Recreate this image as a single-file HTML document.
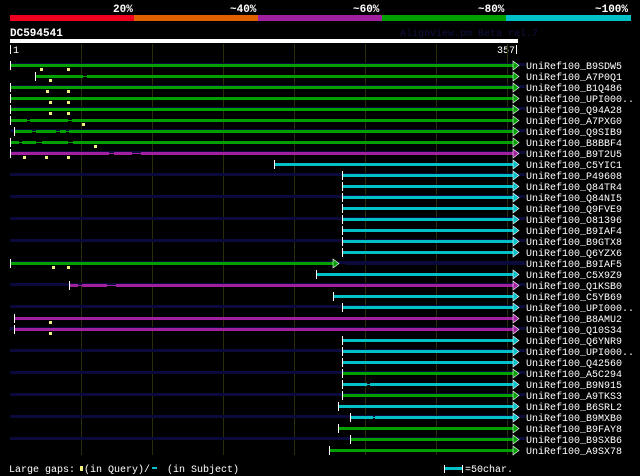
<!DOCTYPE html>
<html><head><meta charset="utf-8"><style>
html,body{margin:0;padding:0;background:#000;width:640px;height:476px;overflow:hidden}
svg{display:block}
text{font-family:"Liberation Mono",monospace;fill:#fff}
</style></head><body>
<svg width="640" height="476" viewBox="0 0 640 476" xmlns="http://www.w3.org/2000/svg">
<rect width="640" height="476" fill="#000"/>
<g font-size="11" font-weight="bold">
<text x="113" y="12">20%</text><text x="230" y="12">~40%</text><text x="353" y="12">~60%</text><text x="478" y="12">~80%</text><text x="595" y="12">~100%</text>
</g>
<rect x="10" y="15" width="124" height="6" fill="#f0001e"/>
<rect x="134" y="15" width="124" height="6" fill="#e06000"/>
<rect x="258" y="15" width="124" height="6" fill="#a020a0"/>
<rect x="382" y="15" width="124" height="6" fill="#00a000"/>
<rect x="506" y="15" width="125" height="6" fill="#00c0c8"/>
<text x="10" y="36" font-size="11" font-weight="bold">DC594541</text>
<text x="400" y="36" font-size="10" style="fill:#101040">AlignView.pm Beta rel.7</text>
<rect x="10" y="39" width="508" height="4" fill="#fff"/>
<rect x="10" y="45" width="1" height="9" fill="#fff"/>
<text x="13" y="53" font-size="10">1</text>
<text x="497" y="53" font-size="10">357</text>
<rect x="516" y="45" width="1" height="9" fill="#fff"/>
<g stroke="#2c2c08" stroke-width="1">
<line x1="81.5" y1="44" x2="81.5" y2="455"/><line x1="152.5" y1="44" x2="152.5" y2="455"/><line x1="223.5" y1="44" x2="223.5" y2="455"/><line x1="294.5" y1="44" x2="294.5" y2="455"/><line x1="365.5" y1="44" x2="365.5" y2="455"/><line x1="436.5" y1="44" x2="436.5" y2="455"/><line x1="507.5" y1="44" x2="507.5" y2="455"/>
</g>
<g fill="#0a0a3c">
<rect x="10" y="63" width="515" height="3"/><rect x="10" y="85" width="515" height="3"/><rect x="10" y="107" width="515" height="3"/><rect x="10" y="129" width="515" height="3"/><rect x="10" y="151" width="515" height="3"/><rect x="10" y="173" width="515" height="3"/><rect x="10" y="195" width="515" height="3"/><rect x="10" y="217" width="515" height="3"/><rect x="10" y="239" width="515" height="3"/><rect x="10" y="261" width="515" height="3"/><rect x="10" y="283" width="515" height="3"/><rect x="10" y="305" width="515" height="3"/><rect x="10" y="327" width="515" height="3"/><rect x="10" y="349" width="515" height="3"/><rect x="10" y="371" width="515" height="3"/><rect x="10" y="393" width="515" height="3"/><rect x="10" y="415" width="515" height="3"/><rect x="10" y="437" width="515" height="3"/>
<rect x="345" y="262" width="180" height="3"/>
</g>
<g>
<rect x="10" y="64" width="504" height="3" fill="#00a000"/>
<rect x="36" y="75" width="47" height="3" fill="#00a000"/><rect x="87" y="75" width="427" height="3" fill="#00a000"/><rect x="83" y="76" width="4" height="1" fill="#00a000"/>
<rect x="10" y="86" width="504" height="3" fill="#00a000"/>
<rect x="10" y="97" width="504" height="3" fill="#00a000"/>
<rect x="10" y="108" width="504" height="3" fill="#00a000"/>
<rect x="10" y="119" width="17" height="3" fill="#00a000"/><rect x="30" y="119" width="38" height="3" fill="#00a000"/><rect x="72" y="119" width="442" height="3" fill="#00a000"/><rect x="10" y="120" width="504" height="1" fill="#00a000"/>
<rect x="14" y="130" width="18" height="3" fill="#00a000"/><rect x="36" y="130" width="20" height="3" fill="#00a000"/><rect x="60" y="130" width="6" height="3" fill="#00a000"/><rect x="69" y="130" width="445" height="3" fill="#00a000"/><rect x="14" y="131" width="500" height="1" fill="#00a000"/>
<rect x="10" y="141" width="9" height="3" fill="#00a000"/><rect x="22" y="141" width="14" height="3" fill="#00a000"/><rect x="42" y="141" width="26" height="3" fill="#00a000"/><rect x="73" y="141" width="441" height="3" fill="#00a000"/><rect x="10" y="142" width="504" height="1" fill="#00a000"/>
<rect x="10" y="152" width="99" height="3" fill="#a020a0"/><rect x="114" y="152" width="18" height="3" fill="#a020a0"/><rect x="141" y="152" width="373" height="3" fill="#a020a0"/><rect x="10" y="153" width="504" height="1" fill="#a020a0"/>
<rect x="275" y="163" width="239" height="3" fill="#00c0c8"/>
<rect x="343" y="174" width="171" height="3" fill="#00c0c8"/>
<rect x="343" y="185" width="171" height="3" fill="#00c0c8"/>
<rect x="343" y="196" width="171" height="3" fill="#00c0c8"/>
<rect x="343" y="207" width="171" height="3" fill="#00c0c8"/>
<rect x="343" y="218" width="171" height="3" fill="#00c0c8"/>
<rect x="343" y="229" width="171" height="3" fill="#00c0c8"/>
<rect x="343" y="240" width="171" height="3" fill="#00c0c8"/>
<rect x="343" y="251" width="171" height="3" fill="#00c0c8"/>
<rect x="10" y="262" width="324" height="3" fill="#00a000"/>
<rect x="317" y="273" width="197" height="3" fill="#00c0c8"/>
<rect x="70" y="284" width="8" height="3" fill="#a020a0"/><rect x="82" y="284" width="25" height="3" fill="#a020a0"/><rect x="116" y="284" width="398" height="3" fill="#a020a0"/><rect x="70" y="285" width="444" height="1" fill="#a020a0"/>
<rect x="334" y="295" width="180" height="3" fill="#00c0c8"/>
<rect x="343" y="306" width="171" height="3" fill="#00c0c8"/>
<rect x="14" y="317" width="500" height="3" fill="#a020a0"/>
<rect x="14" y="328" width="500" height="3" fill="#a020a0"/>
<rect x="343" y="339" width="171" height="3" fill="#00c0c8"/>
<rect x="343" y="350" width="171" height="3" fill="#00c0c8"/>
<rect x="343" y="361" width="171" height="3" fill="#00c0c8"/>
<rect x="343" y="372" width="171" height="3" fill="#00a000"/>
<rect x="343" y="383" width="24" height="3" fill="#00c0c8"/><rect x="370" y="383" width="144" height="3" fill="#00c0c8"/><rect x="343" y="384" width="171" height="1" fill="#00c0c8"/>
<rect x="343" y="394" width="171" height="3" fill="#00a000"/>
<rect x="339" y="405" width="175" height="3" fill="#00c0c8"/>
<rect x="351" y="416" width="22" height="3" fill="#00c0c8"/><rect x="375" y="416" width="139" height="3" fill="#00c0c8"/><rect x="351" y="417" width="163" height="1" fill="#00c0c8"/>
<rect x="339" y="427" width="175" height="3" fill="#00a000"/>
<rect x="351" y="438" width="163" height="3" fill="#00a000"/>
<rect x="330" y="449" width="184" height="3" fill="#00a000"/>
</g>
<g fill="#fff">
<rect x="10" y="61" width="1" height="9"/><rect x="35" y="72" width="1" height="9"/><rect x="10" y="83" width="1" height="9"/><rect x="10" y="94" width="1" height="9"/><rect x="10" y="105" width="1" height="9"/><rect x="10" y="116" width="1" height="9"/><rect x="14" y="127" width="1" height="9"/><rect x="10" y="138" width="1" height="9"/><rect x="10" y="149" width="1" height="9"/><rect x="274" y="160" width="1" height="9"/>
<rect x="342" y="171" width="1" height="9"/><rect x="342" y="182" width="1" height="9"/><rect x="342" y="193" width="1" height="9"/><rect x="342" y="204" width="1" height="9"/><rect x="342" y="215" width="1" height="9"/><rect x="342" y="226" width="1" height="9"/><rect x="342" y="237" width="1" height="9"/><rect x="342" y="248" width="1" height="9"/>
<rect x="10" y="259" width="1" height="9"/><rect x="316" y="270" width="1" height="9"/><rect x="69" y="281" width="1" height="9"/><rect x="333" y="292" width="1" height="9"/><rect x="342" y="303" width="1" height="9"/><rect x="14" y="314" width="1" height="9"/><rect x="14" y="325" width="1" height="9"/>
<rect x="342" y="336" width="1" height="9"/><rect x="342" y="347" width="1" height="9"/><rect x="342" y="358" width="1" height="9"/><rect x="342" y="369" width="1" height="9"/><rect x="342" y="380" width="1" height="9"/><rect x="342" y="391" width="1" height="9"/><rect x="338" y="402" width="1" height="9"/><rect x="350" y="413" width="1" height="9"/><rect x="338" y="424" width="1" height="9"/><rect x="350" y="435" width="1" height="9"/><rect x="329" y="446" width="1" height="9"/>
</g>
<g stroke="#fff" stroke-width="0.6">
<polygon points="513,61 519,65.5 513,70" fill="#00a000"/><polygon points="513,72 519,76.5 513,81" fill="#00a000"/><polygon points="513,83 519,87.5 513,92" fill="#00a000"/><polygon points="513,94 519,98.5 513,103" fill="#00a000"/><polygon points="513,105 519,109.5 513,114" fill="#00a000"/><polygon points="513,116 519,120.5 513,125" fill="#00a000"/><polygon points="513,127 519,131.5 513,136" fill="#00a000"/><polygon points="513,138 519,142.5 513,147" fill="#00a000"/><polygon points="513,149 519,153.5 513,158" fill="#a020a0"/><polygon points="513,160 519,164.5 513,169" fill="#00c0c8"/>
<polygon points="513,171 519,175.5 513,180" fill="#00c0c8"/><polygon points="513,182 519,186.5 513,191" fill="#00c0c8"/><polygon points="513,193 519,197.5 513,202" fill="#00c0c8"/><polygon points="513,204 519,208.5 513,213" fill="#00c0c8"/><polygon points="513,215 519,219.5 513,224" fill="#00c0c8"/><polygon points="513,226 519,230.5 513,235" fill="#00c0c8"/><polygon points="513,237 519,241.5 513,246" fill="#00c0c8"/><polygon points="513,248 519,252.5 513,257" fill="#00c0c8"/>
<polygon points="333,259 339,263.5 333,268" fill="#00a000"/><polygon points="513,270 519,274.5 513,279" fill="#00c0c8"/><polygon points="513,281 519,285.5 513,290" fill="#a020a0"/><polygon points="513,292 519,296.5 513,301" fill="#00c0c8"/><polygon points="513,303 519,307.5 513,312" fill="#00c0c8"/><polygon points="513,314 519,318.5 513,323" fill="#a020a0"/><polygon points="513,325 519,329.5 513,334" fill="#a020a0"/>
<polygon points="513,336 519,340.5 513,345" fill="#00c0c8"/><polygon points="513,347 519,351.5 513,356" fill="#00c0c8"/><polygon points="513,358 519,362.5 513,367" fill="#00c0c8"/><polygon points="513,369 519,373.5 513,378" fill="#00a000"/><polygon points="513,380 519,384.5 513,389" fill="#00c0c8"/><polygon points="513,391 519,395.5 513,400" fill="#00a000"/><polygon points="513,402 519,406.5 513,411" fill="#00c0c8"/><polygon points="513,413 519,417.5 513,422" fill="#00c0c8"/><polygon points="513,424 519,428.5 513,433" fill="#00a000"/><polygon points="513,435 519,439.5 513,444" fill="#00a000"/><polygon points="513,446 519,450.5 513,455" fill="#00a000"/>
</g>
<g fill="#f0f080">
<rect x="40" y="68" width="3" height="3"/><rect x="67" y="68" width="3" height="3"/>
<rect x="49" y="79" width="3" height="3"/>
<rect x="46" y="90" width="3" height="3"/><rect x="67" y="90" width="3" height="3"/>
<rect x="49" y="101" width="3" height="3"/><rect x="67" y="101" width="3" height="3"/>
<rect x="49" y="112" width="3" height="3"/><rect x="67" y="112" width="3" height="3"/>
<rect x="82" y="123" width="3" height="3"/>
<rect x="94" y="145" width="3" height="3"/>
<rect x="23" y="156" width="3" height="3"/><rect x="45" y="156" width="3" height="3"/><rect x="67" y="156" width="3" height="3"/>
<rect x="52" y="266" width="3" height="3"/><rect x="67" y="266" width="3" height="3"/>
<rect x="49" y="321" width="3" height="3"/><rect x="49" y="332" width="3" height="3"/>
</g>
<g font-size="10">
<text x="526" y="69">UniRef100_B9SDW5</text><text x="526" y="80">UniRef100_A7P0Q1</text><text x="526" y="91">UniRef100_B1Q486</text><text x="526" y="102">UniRef100_UPI000..</text><text x="526" y="113">UniRef100_Q94A28</text><text x="526" y="124">UniRef100_A7PXG0</text><text x="526" y="135">UniRef100_Q9SIB9</text><text x="526" y="146">UniRef100_B8BBF4</text><text x="526" y="157">UniRef100_B9T2U5</text><text x="526" y="168">UniRef100_C5YIC1</text>
<text x="526" y="179">UniRef100_P49608</text><text x="526" y="190">UniRef100_Q84TR4</text><text x="526" y="201">UniRef100_Q84NI5</text><text x="526" y="212">UniRef100_Q9FVE9</text><text x="526" y="223">UniRef100_O81396</text><text x="526" y="234">UniRef100_B9IAF4</text><text x="526" y="245">UniRef100_B9GTX8</text><text x="526" y="256">UniRef100_Q6YZX6</text>
<text x="526" y="267">UniRef100_B9IAF5</text><text x="526" y="278">UniRef100_C5X9Z9</text><text x="526" y="289">UniRef100_Q1KSB0</text><text x="526" y="300">UniRef100_C5YB69</text><text x="526" y="311">UniRef100_UPI000..</text><text x="526" y="322">UniRef100_B8AMU2</text><text x="526" y="333">UniRef100_Q10S34</text>
<text x="526" y="344">UniRef100_Q6YNR9</text><text x="526" y="355">UniRef100_UPI000..</text><text x="526" y="366">UniRef100_Q42560</text><text x="526" y="377">UniRef100_A5C294</text><text x="526" y="388">UniRef100_B9N915</text><text x="526" y="399">UniRef100_A9TKS3</text><text x="526" y="410">UniRef100_B6SRL2</text><text x="526" y="421">UniRef100_B9MXB0</text><text x="526" y="432">UniRef100_B9FAY8</text><text x="526" y="443">UniRef100_B9SXB6</text><text x="526" y="454">UniRef100_A9SX78</text>
</g>
<g font-size="10">
<text x="9" y="472">Large gaps:</text>
<rect x="80" y="466" width="3" height="5" fill="#f0f080"/>
<text x="84" y="472">(in Query)/</text>
<rect x="152" y="467" width="5" height="2" fill="#00c0c8"/>
<text x="167" y="472">(in Subject)</text>
<rect x="444" y="465" width="1" height="8" fill="#fff"/>
<rect x="445" y="467" width="17" height="3" fill="#00c0c8"/>
<rect x="462" y="465" width="1" height="8" fill="#fff"/>
<text x="465" y="472">=50char.</text>
</g>
</svg>
</body></html>
